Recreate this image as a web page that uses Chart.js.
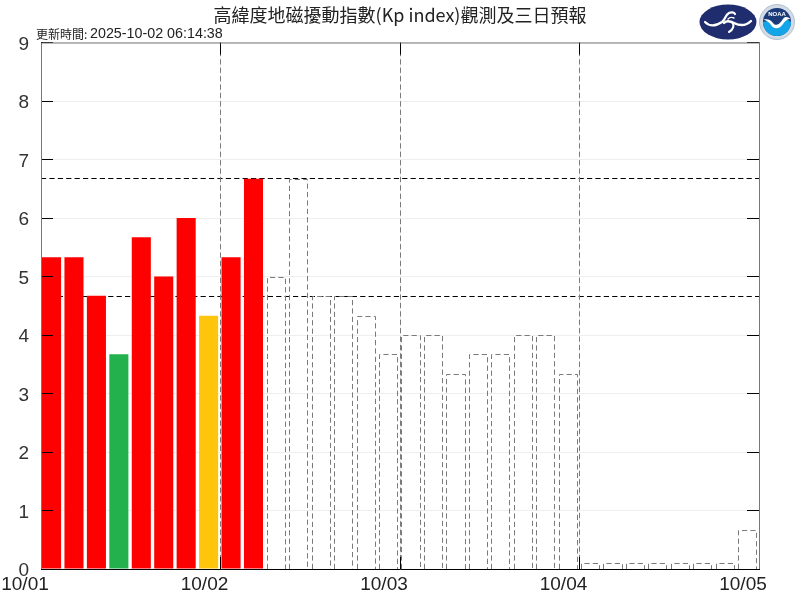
<!DOCTYPE html>
<html><head><meta charset="utf-8">
<style>html,body{margin:0;padding:0;background:#fff}#w{position:relative;width:800px;height:600px}canvas{position:absolute;left:0;top:0}svg{position:absolute}</style>
<script src="https://cdn.jsdelivr.net/npm/chart.js@4"></script>
</head><body><div id="w"><canvas id="c" width="800" height="600"></canvas>
<svg style="left:699px;top:4px" width="58" height="36" viewBox="0 0 58 36"><ellipse cx="29" cy="18" rx="28.5" ry="17.5" fill="#1f2d6e"/><g fill="none" stroke="#fff" stroke-linecap="round"><path d="M6 18 C11 23 17 22 23 18 C27 15 26 11 30 9 C32 8 35 8 36 10" stroke-width="2.2"/><path d="M52 17 C47 22 41 22 35 19 C31 17 27 17 25 19" stroke-width="2.4"/><path d="M33 18 C36 21 34 26 30 28" stroke-width="2"/><path d="M29 15 C31 13 33 13 35 14" stroke-width="1.4"/></g></svg>
<svg style="left:759px;top:4px" width="36" height="36" viewBox="0 0 36 36"><circle cx="18" cy="18" r="17.5" fill="#d3dce6" stroke="#8fa3b8" stroke-width=".6"/><circle cx="18" cy="18" r="14" fill="#1b3a78"/><path d="M4 18 A14 14 0 0 0 32 18 C28 15 26 14 24 16 C21 20 17 24 12 19 C10 17 7 17 4 18Z" fill="#12a5e8"/><path d="M4.5 15.5 C9 14.5 12 16 14 19 C17 23 21 20 24 15 C26 12 29 13 31.5 15 C28 15 26 17 24 20 C21 25 15 26 12 21 C10 18 8 17 4.5 15.5Z" fill="#fff"/><text x="18" y="12" text-anchor="middle" font-family="Liberation Sans" font-weight="bold" font-size="6" fill="#fff">NOAA</text></svg>
</div>
<script>
const dayLabels = ['10/01','10/02','10/03','10/04','10/05'];
const yTicks = [0,1,2,3,4,5,6,7,8,9];
const observed = [5.33,5.33,4.67,3.67,5.67,5,6,4.33,5.33,6.67];
const observedColors = ['#ff0000','#ff0000','#ff0000','#22b14c','#ff0000','#ff0000','#ff0000','#ffc50d','#ff0000','#ff0000'];
const forecast = [5,6.67,4.67,4.67,4.33,3.67,4,4,3.33,3.67,3.67,4,4,3.33,0.1,0.1,0.1,0.1,0.1,0.1,0.1,0.67];
const thresholds = [6.68,4.66];
const titleText = '高緯度地磁擾動指數(Kp index)觀測及三日預報';
const updatedLabel = '更新時間:';
const updatedTime = '2025-10-02 06:14:38';
const slotsPerDay = 8;
const totalSlots = slotsPerDay*(dayLabels.length-1);
const slotCentre = 0.47;
const font = 'Liberation Sans';

const overlay = {
  id:'overlay',
  beforeDatasetsDraw(chart){
    const {ctx,chartArea:a,scales:{y}} = chart;
    ctx.save();
    ctx.strokeStyle='#000';ctx.lineWidth=1;ctx.setLineDash([5.2,3.2]);
    thresholds.forEach(t=>{
      const p=Math.round(y.getPixelForValue(t))+.5;
      ctx.beginPath();ctx.moveTo(a.left,p);ctx.lineTo(a.right,p);ctx.stroke();
    });
    ctx.restore();
  },
  afterDatasetsDraw(chart){
    const {ctx,chartArea:a,scales:{x,y}} = chart;
    ctx.save();
    ctx.strokeStyle='#7a7a7a'; ctx.lineWidth=1; ctx.setLineDash([5.2,3.2]);
    for(let d=1;d<dayLabels.length-1;d++){
      const px=Math.floor(x.getPixelForValue(d*slotsPerDay))+.5;
      ctx.beginPath();ctx.moveTo(px,a.top);ctx.lineTo(px,a.bottom);ctx.stroke();
    }
    chart.getDatasetMeta(1).data.forEach(b=>{
      const l=Math.round(b.x-b.width/2)+.5, r=Math.round(b.x+b.width/2)+.5, t=Math.round(b.y)+.5, bt=Math.round(b.base);
      ctx.beginPath();ctx.moveTo(l,bt);ctx.lineTo(l,t);ctx.lineTo(r,t);ctx.lineTo(r,bt);ctx.stroke();
    });
    ctx.setLineDash([]);
    ctx.strokeStyle='#000';
    const len=12;
    yTicks.forEach(v=>{
      const p=Math.floor(y.getPixelForValue(v))+.5;
      ctx.beginPath();ctx.moveTo(a.left,p);ctx.lineTo(a.left+len,p);ctx.moveTo(a.right,p);ctx.lineTo(a.right-len,p);ctx.stroke();
    });
    dayLabels.forEach((_,d)=>{
      const p=Math.floor(x.getPixelForValue(d*slotsPerDay))+.5;
      ctx.beginPath();ctx.moveTo(p,a.top);ctx.lineTo(p,a.top+len);ctx.moveTo(p,a.bottom);ctx.lineTo(p,a.bottom-len);ctx.stroke();
    });
    ctx.strokeStyle='#777';
    ctx.beginPath();ctx.moveTo(a.left+.5,a.bottom);ctx.lineTo(a.left+.5,a.top+.5);ctx.lineTo(a.right+.5,a.top+.5);ctx.lineTo(a.right+.5,a.bottom);ctx.stroke();
    ctx.strokeStyle='#000';
    ctx.beginPath();ctx.moveTo(a.left,a.bottom+.5);ctx.lineTo(a.right+1,a.bottom+.5);ctx.stroke();
    ctx.fillStyle='#222';ctx.textAlign='left';ctx.textBaseline='alphabetic';
    ctx.font='12px "Noto Sans CJK TC"';
    ctx.fillText(updatedLabel,36,39);
    ctx.font='14.3px "'+font+'"';
    ctx.fillText(updatedTime,90,38);
    ctx.restore();
  }
};

new Chart(document.getElementById('c'),{
  type:'bar',
  data:{datasets:[
    {label:'觀測',data:observed.map((v,i)=>({x:i+slotCentre,y:v})),backgroundColor:observedColors,grouped:false,barPercentage:.85,categoryPercentage:1},
    {label:'預報',data:forecast.map((v,i)=>({x:i+observed.length+slotCentre,y:v})),backgroundColor:'rgba(0,0,0,0)',grouped:false,barPercentage:.81,categoryPercentage:1}
  ]},
  plugins:[overlay],
  options:{
    responsive:false,animation:false,devicePixelRatio:1,
    plugins:{
      legend:{display:false},tooltip:{enabled:false},
      title:{display:true,text:titleText,color:'#222',font:{family:'"Noto Sans CJK TC"',size:18,weight:'normal',lineHeight:1.2},padding:{top:4,bottom:16.9}}
    },
    scales:{
      x:{type:'linear',min:0,max:totalSlots,offset:false,
        afterBuildTicks(s){s.ticks=dayLabels.map((_,d)=>({value:d*slotsPerDay}));},
        afterFit(s){s.height=31;},
        border:{display:false},
        grid:{color:'#eee',drawTicks:false,offset:false},
        ticks:{autoSkip:false,maxRotation:0,padding:4,labelOffset:-16,color:'#222',font:{family:font,size:19},
          callback:(v)=>dayLabels[v/slotsPerDay]}
      },
      y:{min:0,max:9,
        afterBuildTicks(s){s.ticks=yTicks.map(v=>({value:v}));},
        afterFit(s){s.width=41;},
        border:{display:false},
        grid:{color:'#eee',drawTicks:false},
        ticks:{padding:12,labelOffset:2,color:'#333',font:{family:font,size:19},callback:v=>String(v)}
      },
      yRight:{position:'right',min:0,max:9,
        afterFit(s){s.width=41;},
        border:{display:false},
        grid:{display:false},
        ticks:{display:false}
      }
    }
  }
});
</script></body></html>
